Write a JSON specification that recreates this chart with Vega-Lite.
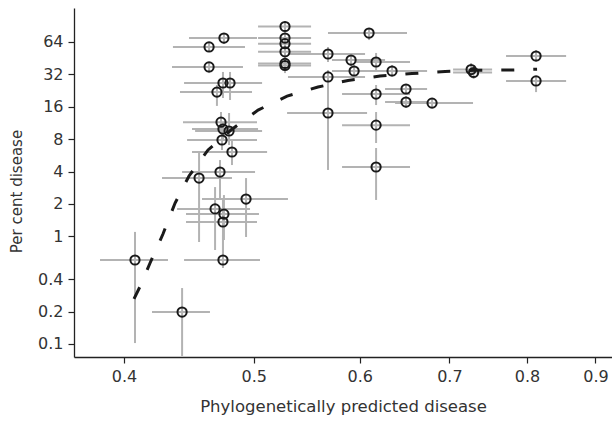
{
 "$schema": "https://vega.github.io/schema/vega-lite/v6.json",
 "width": 538, "height": 349,
 "autosize": {"type": "none"},
 "padding": {"left": 74, "top": 8, "right": 0, "bottom": 65},
 "background": "white",
 "config": {
  "view": {"stroke": null},
  "axis": {"grid": false, "domainColor": "#222", "domainWidth": 1.3, "tickColor": "#222", "tickSize": 6, "tickWidth": 1.2,
   "labelFont": "DejaVu Sans", "labelFontSize": 16, "labelColor": "#333",
   "titleFont": "DejaVu Sans", "titleFontSize": 16, "titleFontWeight": "normal", "titleColor": "#333"}
 },
 "datasets": {
  "pts": [
   {"x": 0.4076, "xlo": 0.3838, "xhi": 0.4314, "y": 0.603, "ylo": 0.102, "yhi": 1.10},
   {"x": 0.4420, "xlo": 0.4197, "xhi": 0.4637, "y": 0.198, "ylo": 0.0774, "yhi": 0.331},
   {"x": 0.4551, "xlo": 0.4270, "xhi": 0.4816, "y": 3.48, "ylo": 0.886, "yhi": 6.08},
   {"x": 0.4630, "xlo": 0.4351, "xhi": 0.4925, "y": 57.5, "ylo": 51.6, "yhi": 63.9},
   {"x": 0.4750, "xlo": 0.4473, "xhi": 0.5028, "y": 69.6, "ylo": 61.3, "yhi": 77.5},
   {"x": 0.4630, "xlo": 0.4344, "xhi": 0.4908, "y": 37.5, "ylo": 32.9, "yhi": 41.7},
   {"x": 0.4742, "xlo": 0.4435, "xhi": 0.5054, "y": 26.6, "ylo": 19.3, "yhi": 33.7},
   {"x": 0.4800, "xlo": 0.4496, "xhi": 0.5072, "y": 26.6, "ylo": 18.5, "yhi": 33.7},
   {"x": 0.4693, "xlo": 0.4404, "xhi": 0.4985, "y": 21.9, "ylo": 16.3, "yhi": 25.5},
   {"x": 0.4726, "xlo": 0.4427, "xhi": 0.5028, "y": 11.5, "ylo": 9.33, "yhi": 14.3},
   {"x": 0.4742, "xlo": 0.4496, "xhi": 0.5037, "y": 9.94, "ylo": 7.86, "yhi": 11.5},
   {"x": 0.4792, "xlo": 0.4520, "xhi": 0.5072, "y": 9.53, "ylo": 7.06, "yhi": 14.0},
   {"x": 0.4734, "xlo": 0.4458, "xhi": 0.5028, "y": 7.86, "ylo": 6.34, "yhi": 9.94},
   {"x": 0.4816, "xlo": 0.4496, "xhi": 0.5116, "y": 6.08, "ylo": 4.60, "yhi": 7.86},
   {"x": 0.4718, "xlo": 0.4420, "xhi": 0.5011, "y": 3.96, "ylo": 2.18, "yhi": 5.12},
   {"x": 0.4934, "xlo": 0.4574, "xhi": 0.5303, "y": 2.22, "ylo": 0.987, "yhi": 3.48},
   {"x": 0.4678, "xlo": 0.4382, "xhi": 0.4968, "y": 1.80, "ylo": 0.747, "yhi": 2.87},
   {"x": 0.4750, "xlo": 0.4450, "xhi": 0.5045, "y": 1.61, "ylo": 0.925, "yhi": 2.42},
   {"x": 0.4742, "xlo": 0.4450, "xhi": 0.5028, "y": 1.36, "ylo": 0.671, "yhi": 2.18},
   {"x": 0.4742, "xlo": 0.4435, "xhi": 0.5054, "y": 0.603, "ylo": 0.508, "yhi": 1.03},
   {"x": 0.5276, "xlo": 0.5037, "xhi": 0.5518, "y": 89.1, "ylo": 79.2, "yhi": 100.0},
   {"x": 0.5276, "xlo": 0.5037, "xhi": 0.5518, "y": 69.6, "ylo": 61.3, "yhi": 79.2},
   {"x": 0.5276, "xlo": 0.5037, "xhi": 0.5518, "y": 61.7, "ylo": 53.9, "yhi": 69.6},
   {"x": 0.5276, "xlo": 0.5037, "xhi": 0.5518, "y": 51.9, "ylo": 46.4, "yhi": 58.7},
   {"x": 0.5276, "xlo": 0.5037, "xhi": 0.5518, "y": 40.4, "ylo": 35.1, "yhi": 46.4},
   {"x": 0.5276, "xlo": 0.5037, "xhi": 0.5518, "y": 38.7, "ylo": 32.9, "yhi": 43.5},
   {"x": 0.6097, "xlo": 0.5681, "xhi": 0.6508, "y": 77.5, "ylo": 66.7, "yhi": 86.3},
   {"x": 0.5681, "xlo": 0.5303, "xhi": 0.6055, "y": 49.5, "ylo": 41.7, "yhi": 57.5},
   {"x": 0.5911, "xlo": 0.5720, "xhi": 0.6267, "y": 43.5, "ylo": 38.3, "yhi": 49.5},
   {"x": 0.6171, "xlo": 0.5952, "xhi": 0.6542, "y": 41.7, "ylo": 35.1, "yhi": 50.6},
   {"x": 0.5942, "xlo": 0.5720, "xhi": 0.6267, "y": 34.4, "ylo": 30.3, "yhi": 39.1},
   {"x": 0.6343, "xlo": 0.6107, "xhi": 0.6737, "y": 34.4, "ylo": 30.3, "yhi": 39.1},
   {"x": 0.5681, "xlo": 0.5303, "xhi": 0.6055, "y": 30.3, "ylo": 25.5, "yhi": 35.1},
   {"x": 0.5681, "xlo": 0.5295, "xhi": 0.6076, "y": 14.0, "ylo": 4.14, "yhi": 25.5},
   {"x": 0.7267, "xlo": 0.7045, "xhi": 0.7534, "y": 35.5, "ylo": 30.9, "yhi": 40.8},
   {"x": 0.7298, "xlo": 0.7045, "xhi": 0.7534, "y": 33.3, "ylo": 29.0, "yhi": 38.3},
   {"x": 0.8126, "xlo": 0.7717, "xhi": 0.8557, "y": 47.4, "ylo": 41.7, "yhi": 53.9},
   {"x": 0.8126, "xlo": 0.7717, "xhi": 0.8557, "y": 27.8, "ylo": 21.9, "yhi": 30.3},
   {"x": 0.6171, "xlo": 0.5820, "xhi": 0.6542, "y": 21.0, "ylo": 16.6, "yhi": 25.5},
   {"x": 0.6497, "xlo": 0.6267, "xhi": 0.6737, "y": 23.4, "ylo": 21.0, "yhi": 26.0},
   {"x": 0.6497, "xlo": 0.6267, "xhi": 0.6737, "y": 17.7, "ylo": 15.6, "yhi": 20.1},
   {"x": 0.6795, "xlo": 0.6376, "xhi": 0.7291, "y": 17.3, "ylo": 15.6, "yhi": 19.3},
   {"x": 0.6171, "xlo": 0.5820, "xhi": 0.6542, "y": 10.8, "ylo": 7.37, "yhi": 14.3},
   {"x": 0.6171, "xlo": 0.5820, "xhi": 0.6542, "y": 4.41, "ylo": 2.18, "yhi": 6.62}
  ],
  "curve": [
   {"x": 0.4069, "y": 0.262},
   {"x": 0.4111, "y": 0.341},
   {"x": 0.4183, "y": 0.566},
   {"x": 0.4277, "y": 1.052},
   {"x": 0.4367, "y": 2.04},
   {"x": 0.4473, "y": 3.64},
   {"x": 0.4622, "y": 6.35},
   {"x": 0.4808, "y": 9.73},
   {"x": 0.5037, "y": 14.9},
   {"x": 0.5295, "y": 20.1},
   {"x": 0.5584, "y": 24.4},
   {"x": 0.5880, "y": 28.1},
   {"x": 0.6213, "y": 30.9},
   {"x": 0.6565, "y": 32.6},
   {"x": 0.6949, "y": 34.0},
   {"x": 0.7329, "y": 34.9},
   {"x": 0.7757, "y": 35.1},
   {"x": 0.8140, "y": 35.7}
  ]
 },
 "layer": [
  {
   "data": {"name": "pts"},
   "mark": {"type": "rule", "color": "#b3b3b3", "strokeWidth": 2},
   "encoding": {
    "x": {"field": "xlo", "type": "quantitative",
     "scale": {"type": "log", "domain": [0.367, 0.926], "nice": false, "zero": false},
     "axis": {"title": "Phylogenetically predicted disease", "values": [0.4, 0.5, 0.6, 0.7, 0.8, 0.9], "format": ".1f", "labelPadding": 5, "titlePadding": 14, "titleFontSize": 16.5}},
    "x2": {"field": "xhi"},
    "y": {"field": "y", "type": "quantitative",
     "scale": {"type": "log", "domain": [0.0757, 132.4], "nice": false, "zero": false},
     "axis": {"title": "Per cent disease", "values": [0.1, 0.2, 0.4, 1, 2, 4, 8, 16, 32, 64], "format": "~g", "labelPadding": 5, "titlePadding": 13, "titleFontSize": 15, "titleY": 183}}
   }
  },
  {
   "data": {"name": "pts"},
   "mark": {"type": "rule", "color": "#b3b3b3", "strokeWidth": 2},
   "encoding": {
    "x": {"field": "x", "type": "quantitative"},
    "y": {"field": "ylo", "type": "quantitative"},
    "y2": {"field": "yhi"}
   }
  },
  {
   "data": {"name": "curve"},
   "mark": {"type": "line", "color": "#1a1a1a", "strokeWidth": 3, "strokeDash": [13, 19]},
   "encoding": {
    "x": {"field": "x", "type": "quantitative"},
    "y": {"field": "y", "type": "quantitative"}
   }
  },
  {
   "data": {"name": "pts"},
   "mark": {"type": "point", "shape": "circle", "filled": false, "color": "#1a1a1a", "strokeWidth": 2, "size": 85, "opacity": 1},
   "encoding": {
    "x": {"field": "x", "type": "quantitative"},
    "y": {"field": "y", "type": "quantitative"}
   }
  }
 ]
}
